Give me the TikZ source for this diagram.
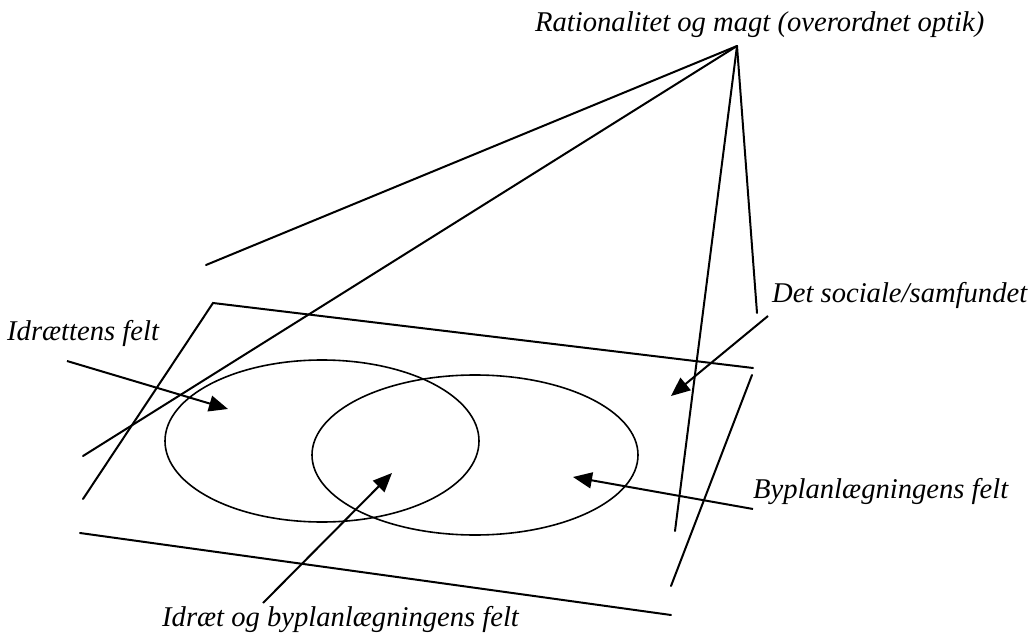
\documentclass[tikz,border=0pt]{standalone}
\usepackage{fontspec}
\setmainfont{Liberation Serif}
\usetikzlibrary{arrows.meta,shapes.geometric}
\tikzset{
  lbl/.style={inner sep=0pt, anchor=base west, font=\fontsize{28.6}{34}\selectfont\itshape},
  ln/.style={line width=2pt, line cap=round},
  ell/.style={draw, line width=1.6pt, ellipse, inner sep=0pt},
  arr/.style={line width=2pt, -{Triangle[length=19pt,width=16pt]}}
}
\begin{document}
\begin{tikzpicture}[x=1pt,y=-1pt]
\useasboundingbox (0,0) rectangle (1036,636);
% labels
\node[lbl] (top) at (535,32) {Rationalitet og magt (overordnet optik)};
\node[lbl] (soc) at (772,303) {Det sociale/samfundet};
\node[lbl] (idr) at (7,340) {Idrættens felt};
\node[lbl] (byp) at (753,498) {Byplanlægningens felt};
\node[lbl] (both) at (162,626) {Idræt og byplanlægningens felt};
% points
\coordinate (A) at (737,46);
\coordinate (l1) at (206,265);
\coordinate (l2) at (83,456);
\coordinate (l3) at (675,531);
\coordinate (l4) at (757,313);
\coordinate (p1) at (83,499);
\coordinate (p2) at (213,303);
\coordinate (p3) at (753,368);
\coordinate (r1) at (752,375);
\coordinate (r2) at (671,586);
\coordinate (b1) at (80,533);
\coordinate (b2) at (671,615);
% optic lines
\draw[ln] (A) -- (l1);
\draw[ln] (A) -- (l2);
\draw[ln] (A) -- (l3);
\draw[ln] (A) -- (l4);
% plane
\draw[ln, line join=miter] (p1) -- (p2) -- (p3);
\draw[ln] (r1) -- (r2);
\draw[ln] (b1) -- (b2);
% fields
\node[ell, minimum width=314pt, minimum height=162pt] (e1) at (322,441) {};
\node[ell, minimum width=326pt, minimum height=160pt] (e2) at (475,455) {};
% arrows
\coordinate (a1s) at (67,361);  \coordinate (a1t) at (228,409);
\coordinate (a2s) at (768,316); \coordinate (a2t) at (671,396);
\coordinate (a3s) at (263,603); \coordinate (a3t) at (392,473);
\coordinate (a4s) at (753,509); \coordinate (a4t) at (573,477);
\draw[arr] (a1s) -- (a1t);
\draw[arr] (a2s) -- (a2t);
\draw[arr] (a3s) -- (a3t);
\draw[arr] (a4s) -- (a4t);
\end{tikzpicture}
\end{document}
